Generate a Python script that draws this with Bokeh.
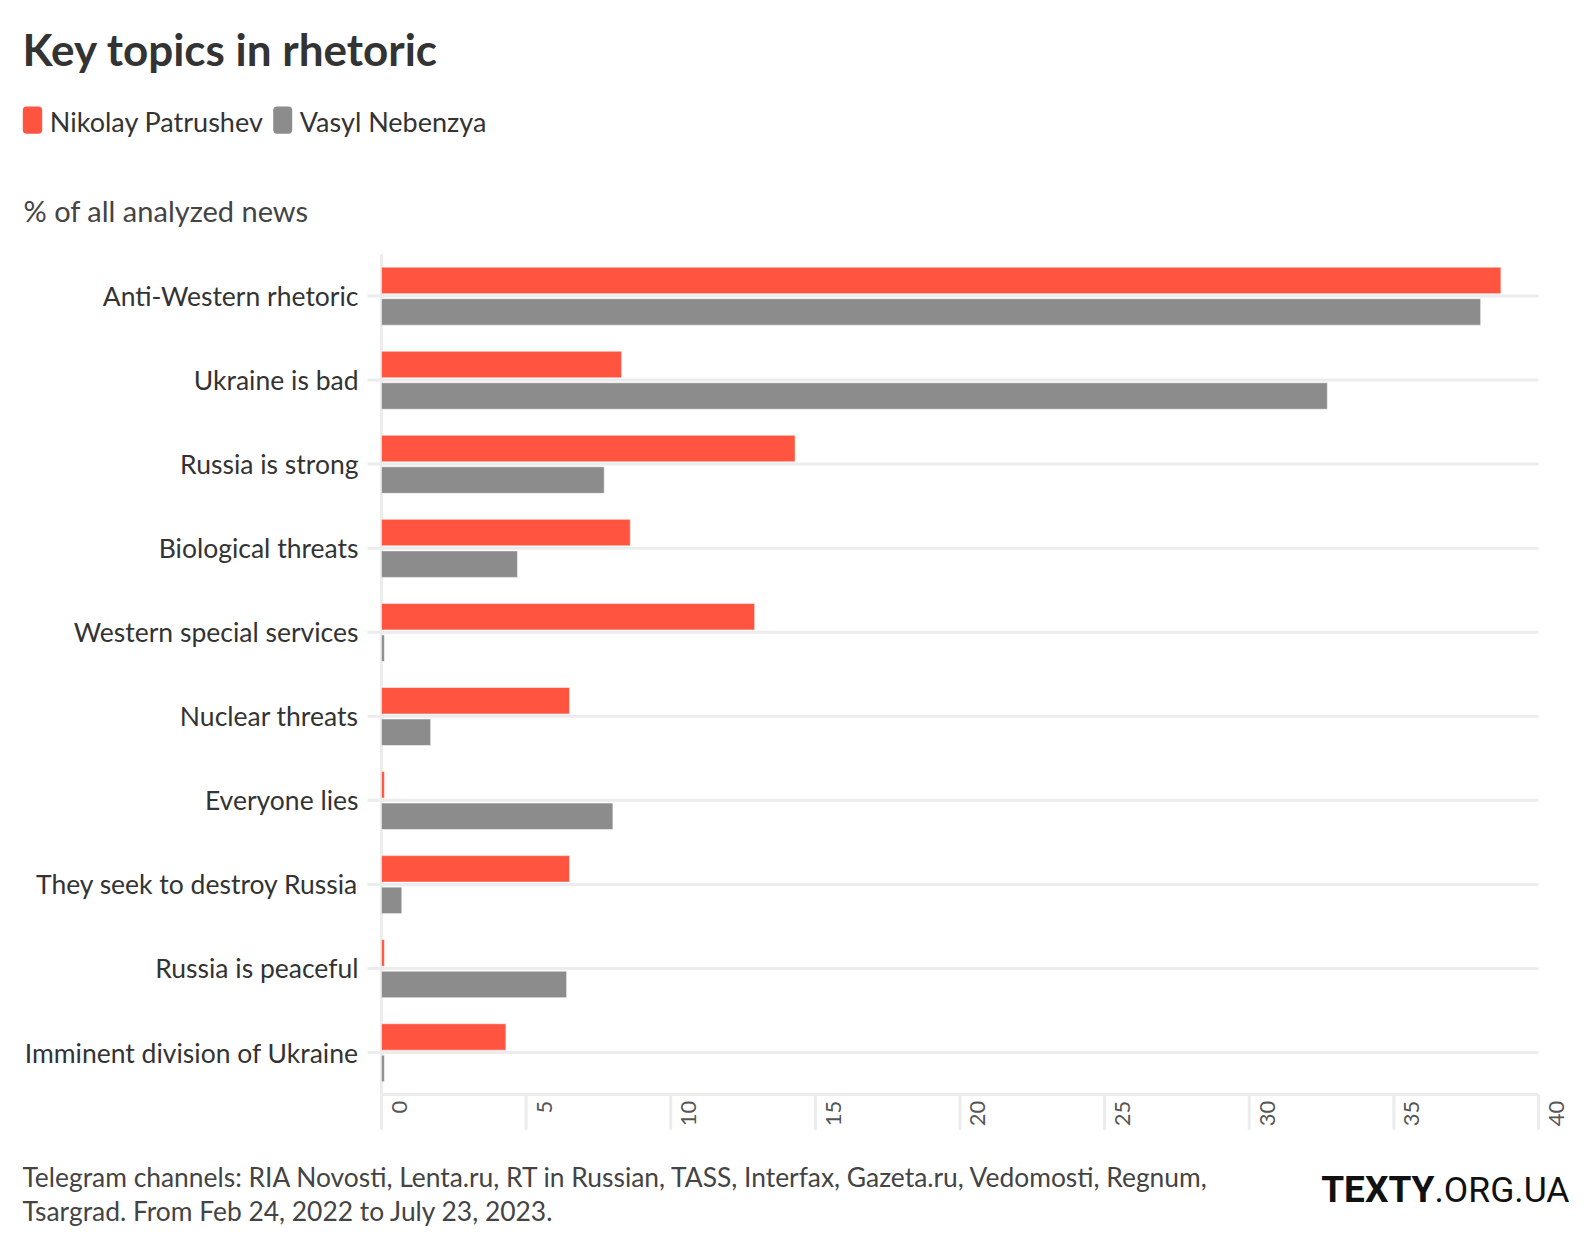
from bokeh.plotting import figure
from bokeh.models import Range1d, Label, ColumnDataSource, BoxAnnotation
from bokeh.transform import dodge
from bokeh.core.properties import value
from bokeh.embed import file_html
from bokeh.resources import INLINE

TITLE = "Key topics in rhetoric"
SUBTITLE = "% of all analyzed news"
SERIES = ["Nikolay Patrushev", "Vasyl Nebenzya"]
COLORS = ["#ff5540", "#8c8c8c"]
CATEGORIES = [
    "Anti-Western rhetoric",
    "Ukraine is bad",
    "Russia is strong",
    "Biological threats",
    "Western special services",
    "Nuclear threats",
    "Everyone lies",
    "They seek to destroy Russia",
    "Russia is peaceful",
    "Imminent division of Ukraine",
]
PATRUSHEV = [38.7, 8.3, 14.3, 8.6, 12.9, 6.5, 0.1, 6.5, 0.1, 4.3]
NEBENZYA = [38.0, 32.7, 7.7, 4.7, 0.1, 1.7, 8.0, 0.7, 6.4, 0.1]
XTICKS = [0, 5, 10, 15, 20, 25, 30, 35, 40]
XTICK_LABELS = [str(t) for t in XTICKS]
FOOTER = [
    "Telegram channels: RIA Novosti, Lenta.ru, RT in Russian, TASS, Interfax, Gazeta.ru, Vedomosti, Regnum,",
    "Tsargrad. From Feb 24, 2022 to July 23, 2023.",
]
LOGO_BOLD = "TEXTY"
LOGO_REST = ".ORG.UA"

FONT = "Lato"
TXT = "#333333"
GRID = "#ececec"

W, H = 1592, 1240
XMIN, XMAX = XTICKS[0], XTICKS[-1]

# category slots: first category on top
ypos = [-i for i in range(len(CATEGORIES))]
src = ColumnDataSource(dict(cat=CATEGORIES, y=ypos, pat=PATRUSHEV, neb=NEBENZYA))

AXIS_Y = ypos[-1] - 0.5      # baseline of the value axis (edge of last slot)
TOP_Y = ypos[0] + 0.5        # top edge of first slot
TICK_LEN = 0.42
GRID_LEFT = -0.484

p = figure(
    width=W, height=H,
    x_range=Range1d(-13.172, 41.867),
    y_range=Range1d(-11.236, 3.515),
    x_axis_location=None, y_axis_location=None,
    title=None,
    output_backend="svg", toolbar_location=None,
    min_border=0,
)
p.outline_line_color = None
p.grid.grid_line_color = None
p.background_fill_color = "white"
p.border_fill_color = "white"

# horizontal grid lines at each category
p.segment(x0=GRID_LEFT, x1=XMAX, y0="y", y1="y", source=src,
          line_color=GRID, line_width=3)
# vertical zero line
p.segment(x0=[XMIN], x1=[XMIN], y0=[TOP_Y], y1=[AXIS_Y], line_color=GRID, line_width=3)
# value axis line and ticks
p.segment(x0=[XMIN], x1=[XMAX], y0=[AXIS_Y], y1=[AXIS_Y], line_color=GRID, line_width=3)
tsrc = ColumnDataSource(dict(x=XTICKS, t=XTICK_LABELS))
p.segment(x0="x", x1="x", y0=AXIS_Y, y1=AXIS_Y - TICK_LEN, source=tsrc,
          line_color=GRID, line_width=3)
p.text(x="x", y=AXIS_Y - 0.072, text="t", source=tsrc, angle=90, angle_units="deg",
       text_align="right", text_baseline="middle", x_offset=18,
       text_font=value(FONT), text_font_size="22px", text_color="#555555")

# bars
p.hbar(y=dodge("y", 0.185), left=0, right="pat", height=0.315, source=src,
       fill_color=COLORS[0], line_color="white", line_alpha=0.5, line_width=1)
p.hbar(y=dodge("y", -0.19), left=0, right="neb", height=0.315, source=src,
       fill_color=COLORS[1], line_color="white", line_alpha=0.5, line_width=1)

# category labels
p.text(x=0, y="y", text="cat", source=src, x_offset=-23,
       text_align="right", text_baseline="middle",
       text_font=value(FONT), text_font_size="26.5px", text_color=TXT)


def lab(x, y, text, size, color=TXT, style="normal", font=FONT, align="left"):
    # y is the intended page baseline; small correction for the label anchor
    yy = y - 0.35 * size
    p.add_layout(Label(x=x, y=H - yy, x_units="screen", y_units="screen", text=text,
                       text_font=font, text_font_size=f"{size}px", text_color=color,
                       text_font_style=style, text_align=align,
                       text_baseline="alphabetic"))


# title
lab(22, 64.3, TITLE, 44, style="bold")
# legend
for i, (l, r, tx) in enumerate([(22.3, 41.7, 49.3), (272.7, 291.7, 299.3)]):
    p.add_layout(BoxAnnotation(left=l, right=r, top=H - 106, bottom=H - 133.3,
                               left_units="screen", right_units="screen",
                               top_units="screen", bottom_units="screen",
                               fill_color=COLORS[i], fill_alpha=1, line_color=None,
                               border_radius=4, level="overlay"))
    lab(tx, 130, SERIES[i], 27)
# subtitle
lab(23, 220, SUBTITLE, 29, color="#444444")
# footer
lab(22, 1186, FOOTER[0], 26.4, color="#444444")
lab(22, 1220, FOOTER[1], 26.4, color="#444444")
lab(1434, 1202, LOGO_BOLD, 37, color="#111111", style="bold", font="Roboto", align="right")
lab(1434, 1202, LOGO_REST, 35.5, color="#111111", font="Roboto")

open("out.html", "w").write(file_html(p, INLINE))
